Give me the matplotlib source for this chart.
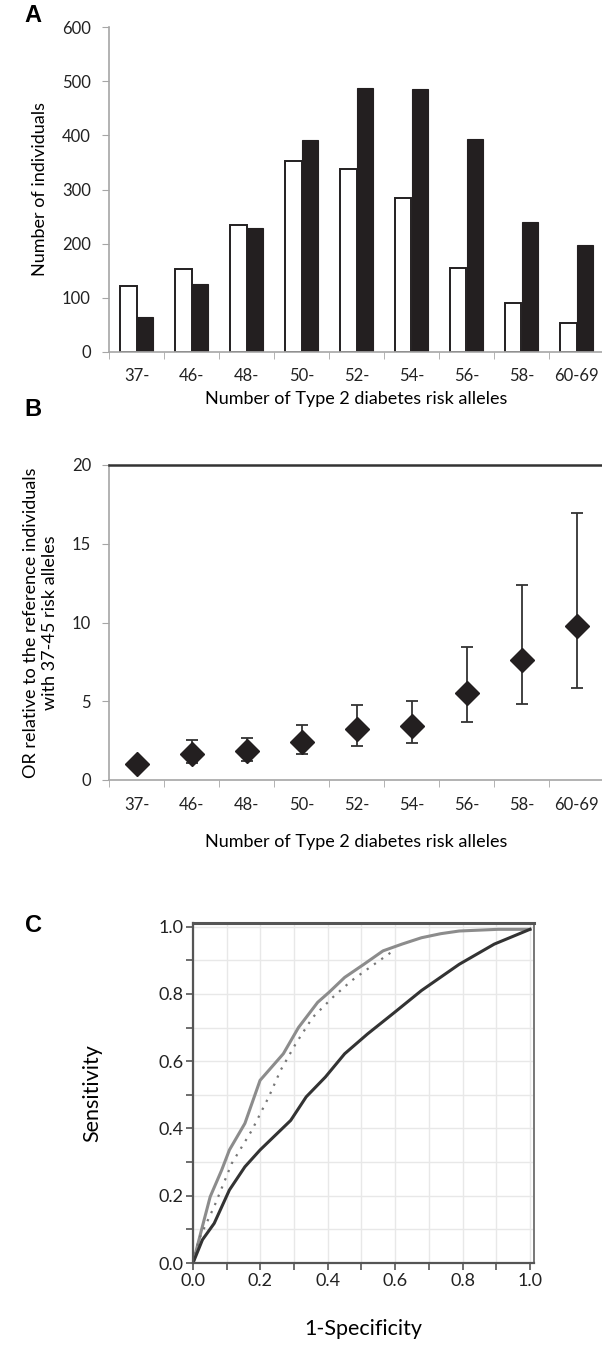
import matplotlib
matplotlib.use("Agg")
import matplotlib.pyplot as plt
import numpy as np

plt.rcParams['font.family'] = ['Lato', 'DejaVu Sans']

categories = ['37-', '46-', '48-', '50-', '52-', '54-', '56-', '58-', '60-69']

# panel A: number of individuals (white = controls, black = cases)
controls = [121, 153, 234, 352, 337, 284, 155, 90, 53]
cases = [64, 125, 229, 391, 488, 485, 394, 240, 198]

# panel B: odds ratios with 95% CI
or_est = [1.0, 1.65, 1.84, 2.39, 3.22, 3.43, 5.5, 7.6, 9.8]
or_low = [1.0, 1.06, 1.23, 1.65, 2.18, 2.35, 3.66, 4.8, 5.86]
or_high = [1.0, 2.54, 2.69, 3.49, 4.76, 5.04, 8.42, 12.38, 16.93]

# panel C: ROC curves
roc_top_x = [0, 0.028, 0.051, 0.085, 0.108, 0.154, 0.199, 0.268, 0.313, 0.37, 0.404,
             0.45, 0.507, 0.564, 0.62, 0.678, 0.735, 0.79, 0.905, 1.0]
roc_top_y = [0, 0.109, 0.197, 0.276, 0.336, 0.415, 0.543, 0.622, 0.70, 0.775, 0.805,
             0.849, 0.888, 0.928, 0.948, 0.967, 0.979, 0.987, 0.992, 0.992]
roc_dot_x = [0, 0.017, 0.063, 0.115, 0.175, 0.225, 0.26, 0.305, 0.355, 0.415, 0.47, 0.525, 0.587]
roc_dot_y = [0, 0.069, 0.168, 0.296, 0.395, 0.494, 0.573, 0.652, 0.73, 0.79, 0.839, 0.879, 0.923]
roc_low_x = [0, 0.028, 0.063, 0.108, 0.154, 0.199, 0.29, 0.336, 0.393, 0.45, 0.518,
             0.598, 0.678, 0.79, 0.894, 1.0]
roc_low_y = [0, 0.069, 0.118, 0.217, 0.286, 0.336, 0.424, 0.494, 0.553, 0.622, 0.681,
             0.745, 0.81, 0.888, 0.948, 0.992]

W, H = 602, 1348
fig = plt.figure(figsize=(W / 100, H / 100), dpi=100)

def box(x0, y0, x1, y1):
    # pixel box (top-left origin) -> figure fraction rect
    return [x0 / W, 1 - y1 / H, (x1 - x0) / W, (y1 - y0) / H]

axis_gray = '#a6a6a6'
bar_black = '#231f20'
tick_fs = 12
lbl_fs = 13

def category_axis(ax):
    n = len(categories)
    ax.set_xlim(0, n)
    ax.set_xticks(np.arange(n) + 0.5)
    ax.set_xticklabels(categories, fontsize=tick_fs, color='#222222')
    ax.set_xticks(np.arange(n + 1), minor=True)
    ax.tick_params(axis='x', which='major', length=0, pad=12)
    ax.tick_params(axis='x', which='minor', length=5, color=axis_gray, direction='out')
    ax.tick_params(axis='y', length=5, color=axis_gray, labelsize=tick_fs,
                   labelcolor='#222222', pad=8)
    for s in ['left', 'bottom']:
        ax.spines[s].set_color(axis_gray)
        ax.spines[s].set_linewidth(1.2)
    ax.spines['right'].set_visible(False)

# ---- panel A
axA = fig.add_axes(box(109, 27.3, 604, 351.7))
x = np.arange(len(categories)) + 0.5
bw = 0.3
axA.bar(x - bw / 2, controls, bw, color='white', edgecolor=bar_black, linewidth=1.4)
axA.bar(x + bw / 2, cases, bw, color=bar_black, edgecolor=bar_black, linewidth=0.8)
axA.set_ylim(0, 600)
axA.set_yticks(range(0, 601, 100))
category_axis(axA)
axA.spines['top'].set_visible(False)
axA.set_ylabel('Number of individuals', fontsize=lbl_fs, labelpad=10)
axA.set_xlabel('Number of Type 2 diabetes risk alleles', fontsize=lbl_fs, labelpad=5)

# ---- panel B
axB = fig.add_axes(box(109, 465, 604, 780))
err = [np.array(or_est) - np.array(or_low), np.array(or_high) - np.array(or_est)]
axB.errorbar(x, or_est, yerr=err, fmt='D', color=bar_black, markersize=12,
             ecolor='#333333', elinewidth=1.3, capsize=4, capthick=1.3)
axB.set_ylim(0, 20)
axB.set_yticks(range(0, 21, 5))
category_axis(axB)
axB.spines['top'].set_color('#333333')
axB.spines['top'].set_linewidth(1.8)
axB.set_ylabel('OR relative to the reference individuals\nwith 37-45 risk alleles',
               fontsize=lbl_fs, labelpad=10, linespacing=1.25)
axB.set_xlabel('Number of Type 2 diabetes risk alleles', fontsize=lbl_fs, labelpad=15)

# ---- panel C
axC = fig.add_axes(box(193, 922.6, 534, 1263))
axC.plot(roc_top_x, roc_top_y, color='#8c8c8c', lw=2.2)
axC.plot(roc_dot_x, roc_dot_y, color='#777777', lw=1.6, ls=(0, (1, 3)))
axC.plot(roc_low_x, roc_low_y, color='#333333', lw=2.2)
axC.set_xlim(0, 1.012)
axC.set_ylim(0, 1.012)
ticks = [0, 0.2, 0.4, 0.6, 0.8, 1.0]
axC.set_xticks(ticks)
axC.set_yticks(ticks)
axC.set_xticklabels([f'{t:.1f}' for t in ticks])
axC.set_yticklabels([f'{t:.1f}' for t in ticks])
axC.set_xticks(np.arange(0.1, 1.0, 0.2), minor=True)
axC.set_yticks(np.arange(0.1, 1.0, 0.2), minor=True)
axC.grid(True, which='both', color='#e8e8e8', lw=1.0)
axC.set_axisbelow(True)
axC.tick_params(which='both', direction='out', color='#555555', length=5, width=1.2)
axC.tick_params(which='major', labelsize=13, labelcolor='#222222', pad=2)
for s in ['left', 'bottom', 'top']:
    axC.spines[s].set_color('#555555')
    axC.spines[s].set_linewidth(1.6)
axC.spines['top'].set_linewidth(2.2)
axC.spines['right'].set_color('#777777')
axC.spines['right'].set_linewidth(1.4)
axC.set_xlabel('1-Specificity', fontsize=15.5, labelpad=22)
axC.set_ylabel('Sensitivity', fontsize=15.5, labelpad=40)

# panel letters
for letter, yy in [('A', 16), ('B', 410), ('C', 926)]:
    fig.text(33 / W, 1 - yy / H, letter, fontsize=17, fontweight='bold',
             family='Liberation Sans', ha='center', va='center')

fig.savefig('out.png', dpi=100)
